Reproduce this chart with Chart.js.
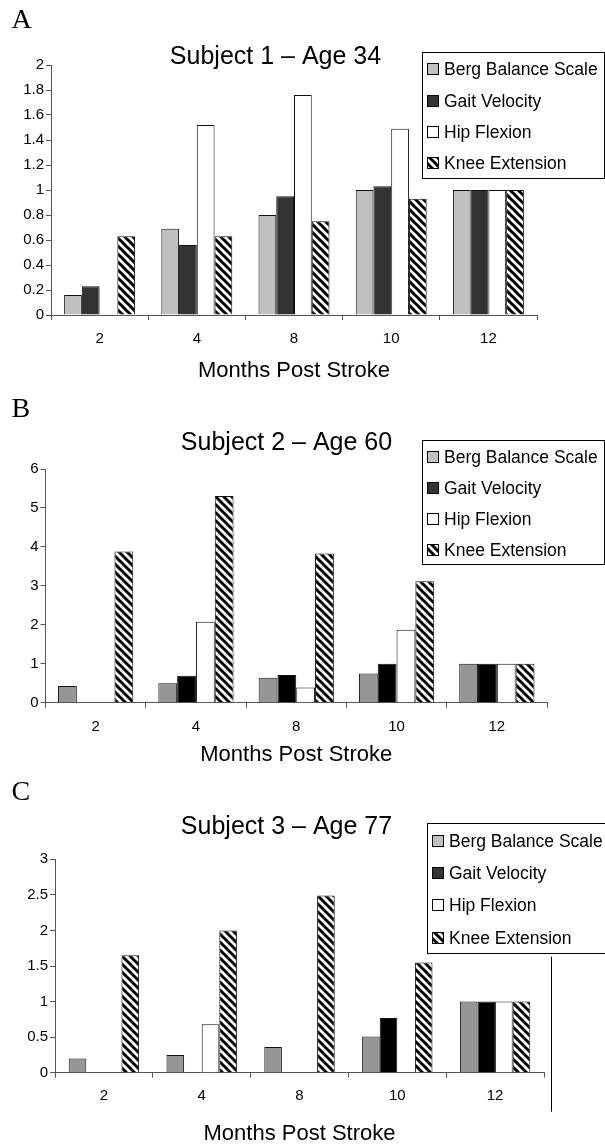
<!DOCTYPE html>
<html>
<head>
<meta charset="utf-8">
<script src="https://cdn.jsdelivr.net/npm/chart.js@4.4.1/dist/chart.umd.min.js"></script>
<style>
  body { margin: 0; background: #fff; }
  canvas { position: absolute; left: 0; }
</style>
</head>
<body>
<canvas id="chartA" width="605" height="385" style="top:0px"></canvas>
<canvas id="chartB" width="605" height="385" style="top:385px"></canvas>
<canvas id="chartC" width="605" height="375" style="top:770px"></canvas>
<script>
const months = ["2", "4", "8", "10", "12"];
const seriesNames = ["Berg Balance Scale", "Gait Velocity", "Hip Flexion", "Knee Extension"];

// Subject 1 - Age 34
const bergA = [0.16, 0.69, 0.80, 1.0, 1.0];
const gaitA = [0.23, 0.56, 0.95, 1.03, 1.0];
const hipA = [null, 1.52, 1.76, 1.49, 1.0];
const kneeA = [0.63, 0.63, 0.75, 0.93, 1.0];
const yTicksA = [0, 0.2, 0.4, 0.6, 0.8, 1, 1.2, 1.4, 1.6, 1.8, 2];

// Subject 2 - Age 60
const bergB = [0.43, 0.50, 0.64, 0.75, 1.0];
const gaitB = [null, 0.69, 0.71, 1.0, 1.0];
const hipB = [null, 2.08, 0.39, 1.87, 1.0];
const kneeB = [3.88, 5.31, 3.83, 3.12, 1.0];
const yTicksB = [0, 1, 2, 3, 4, 5, 6];

// Subject 3 - Age 77
const bergC = [0.20, 0.25, 0.36, 0.51, 1.0];
const gaitC = [null, null, null, 0.77, 1.0];
const hipC = [null, 0.68, null, null, 1.0];
const kneeC = [1.65, 2.0, 2.49, 1.55, 1.0];
const yTicksC = [0, 0.5, 1, 1.5, 2, 2.5, 3];

Chart.defaults.font.family = "'Liberation Sans', Arial, sans-serif";
Chart.defaults.color = "#000";

// diagonal hatch like the excel fill
function stripes() {
  const c = document.createElement("canvas");
  c.width = 8; c.height = 8;
  const g = c.getContext("2d");
  g.fillStyle = "#fff";
  g.fillRect(0, 0, 8, 8);
  g.strokeStyle = "#000";
  g.lineWidth = 3;
  g.beginPath();
  for (const k of [-8, 0, 8]) {
    g.moveTo(k - 2, -2);
    g.lineTo(k + 10, 10);
  }
  g.stroke();
  return g.createPattern(c, "repeat");
}
const hatch = stripes();
const legendFills = ["#c0c0c0", "#333333", "#ffffff", hatch];

// letter, title, boxed legend
const decor = {
  id: "decor",
  afterDraw(chart, args, o) {
    const ctx = chart.ctx;
    ctx.save();
    ctx.fillStyle = "#000";
    ctx.textAlign = "left";
    ctx.textBaseline = "alphabetic";
    ctx.font = "28px 'Liberation Serif', serif";
    ctx.fillText(o.letter, 11.5, o.letterY);

    ctx.font = "25px 'Liberation Sans', sans-serif";
    ctx.textAlign = "center";
    ctx.textBaseline = "middle";
    ctx.fillText(o.title, o.titleX, o.titleY);

    const b = o.legend;
    ctx.fillStyle = "#fff";
    ctx.fillRect(b.x, b.y, b.w, b.h);
    ctx.strokeStyle = "#000";
    ctx.lineWidth = 1;
    ctx.strokeRect(Math.round(b.x) + 0.5, Math.round(b.y) + 0.5, Math.round(b.w), Math.round(b.h));
    ctx.font = "17.5px 'Liberation Sans', sans-serif";
    ctx.textAlign = "left";
    chart.data.datasets.forEach((ds, i) => {
      const cy = Math.round(b.y + 2 + (i + 0.5) * b.h / 4);
      const sx = Math.round(b.x + 5.5);
      ctx.fillStyle = legendFills[i];
      ctx.fillRect(sx, cy - 6, 12, 12);
      ctx.strokeStyle = "#000";
      ctx.strokeRect(sx + 0.5, cy - 5.5, 11, 11);
      ctx.fillStyle = "#000";
      ctx.fillText(ds.label, b.x + 22.5, cy + 1);
    });

    if (o.frameLine) {
      const f = o.frameLine;
      ctx.strokeStyle = "#000";
      ctx.beginPath();
      ctx.moveTo(f.x + 0.5, f.y1);
      ctx.lineTo(f.x + 0.5, f.y2);
      ctx.stroke();
    }
    ctx.restore();
  }
};

function makeChart(id, series, opt) {
  const fills = [opt.berg, opt.gait, "#ffffff", hatch];
  return new Chart(document.getElementById(id), {
    type: "bar",
    data: {
      labels: months,
      datasets: seriesNames.map((name, i) => ({
        label: name,
        data: series[i],
        backgroundColor: fills[i],
        borderColor: "#111",
        borderWidth: 1,
        barPercentage: 1,
        categoryPercentage: opt.catPct,
      })),
    },
    options: {
      responsive: false,
      animation: false,
      layout: { padding: { left: 0, right: opt.right, top: opt.top, bottom: 0 } },
      plugins: {
        legend: { display: false },
        tooltip: { enabled: false },
        decor: opt.decor,
      },
      scales: {
        x: {
          grid: { drawOnChartArea: false, tickLength: 5, color: "#555" },
          border: { color: "#555" },
          ticks: { font: { size: 15 }, padding: opt.xPad },
          title: {
            display: true,
            text: "Months Post Stroke",
            font: { size: 22, lineHeight: 1 },
            padding: { top: 0, bottom: opt.titlePad },
          },
          afterFit: (s) => { s.height = opt.xH; },
        },
        y: {
          min: opt.yTicks[0],
          max: opt.yTicks[opt.yTicks.length - 1],
          grid: { drawOnChartArea: false, tickLength: 5, color: "#555" },
          border: { color: "#555" },
          ticks: {
            font: { size: 15 },
            padding: 2,
            callback: (v) => String(+(+v).toFixed(2)),
          },
          afterBuildTicks: (s) => { s.ticks = opt.yTicks.map((v) => ({ value: v })); },
          afterFit: (s) => { s.width = opt.yW; },
        },
      },
    },
    plugins: [decor],
  });
}

makeChart("chartA", [bergA, gaitA, hipA, kneeA], {
  berg: "#c0c0c0", gait: "#333333", catPct: 0.73,
  yTicks: yTicksA, yW: 51, right: 68, top: 65, xH: 70, xPad: 10, titlePad: 3,
  decor: {
    letter: "A", letterY: 28,
    title: "Subject 1 \u2013 Age 34", titleX: 275.5, titleY: 57,
    legend: { x: 421.5, y: 51.5, w: 182, h: 125.5 },
  },
});

makeChart("chartB", [bergB, gaitB, hipB, kneeB], {
  berg: "#969696", gait: "#000000", catPct: 0.75,
  yTicks: yTicksB, yW: 45.5, right: 58, top: 84, xH: 67.3, xPad: 10, titlePad: 4.3,
  decor: {
    letter: "B", letterY: 31.5,
    title: "Subject 2 \u2013 Age 60", titleX: 286.5, titleY: 58.5,
    legend: { x: 421.5, y: 54.5, w: 182, h: 123.5 },
  },
});

makeChart("chartC", [bergC, gaitC, hipC, kneeC], {
  berg: "#969696", gait: "#000000", catPct: 0.72,
  yTicks: yTicksC, yW: 55, right: 61, top: 89.3, xH: 72.3, xPad: 9.3, titlePad: 0,
  decor: {
    letter: "C", letterY: 30,
    title: "Subject 3 \u2013 Age 77", titleX: 286.5, titleY: 56.7,
    legend: { x: 426.5, y: 52.5, w: 200, h: 129.5 },
    frameLine: { x: 551, y1: 186.7, y2: 341.7 },
  },
});
</script>
</body>
</html>
